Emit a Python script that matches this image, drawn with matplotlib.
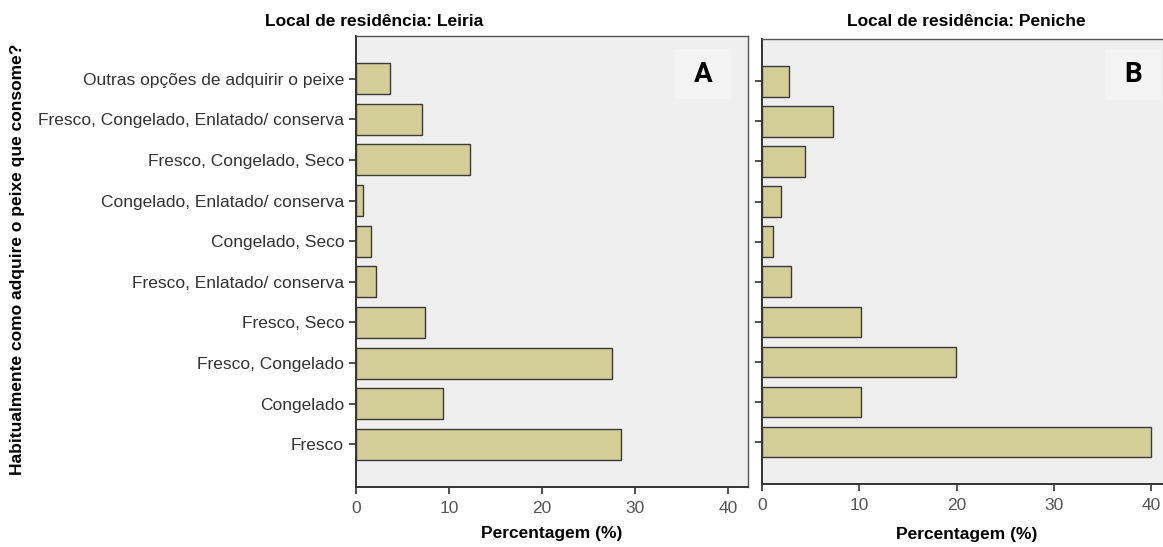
import matplotlib
matplotlib.use("Agg")
import matplotlib.pyplot as plt
import numpy as np

plt.rcParams['font.family'] = ['Liberation Sans', 'DejaVu Sans']

# categorias (de baixo para cima)
categorias = [
    "Fresco",
    "Congelado",
    "Fresco, Congelado",
    "Fresco, Seco",
    "Fresco, Enlatado/ conserva",
    "Congelado, Seco",
    "Congelado, Enlatado/ conserva",
    "Fresco, Congelado, Seco",
    "Fresco, Congelado, Enlatado/ conserva",
    "Outras opções de adquirir o peixe",
]
leiria = [28.5, 9.4, 27.5, 7.4, 2.1, 1.6, 0.8, 12.3, 7.1, 3.7]
peniche = [40.0, 10.2, 19.9, 10.2, 3.0, 1.1, 1.9, 4.4, 7.3, 2.7]
x_ticks = [0, 10, 20, 30, 40]

W, H = 1163, 547
fig = plt.figure(figsize=(W / 100, H / 100), dpi=100)

bar_col = "#d3ce97"
bg_col = "#efefef"
edge_col = "#3a3a3a"
fs = 12.5

def px(l, t, r, b):
    return [l / W, 1 - b / H, (r - l) / W, (b - t) / H]

ax1 = fig.add_axes(px(356, 36, 748, 487))
ax2 = fig.add_axes(px(762.3, 39.3, 1170.3, 484))

y = np.arange(len(categorias))
for ax, vals, xmax in [(ax1, leiria, 42.15), (ax2, peniche, 42.0)]:
    ax.set_facecolor(bg_col)
    ax.barh(y, vals, height=0.76, color=bar_col, edgecolor=edge_col, linewidth=1.0)
    ax.set_xlim(0, xmax)
    ax.set_ylim(-1.05, len(categorias) - 1 + 1.05)
    ax.set_xticks(x_ticks)
    ax.set_yticks(y)
    ax.tick_params(axis='both', direction='out', length=5, width=1.2, color="#333333")
    ax.tick_params(axis='x', labelsize=fs, labelcolor="#555555", pad=5)
    for s in ax.spines.values():
        s.set_color("#555555")
        s.set_linewidth(1.0)
    ax.spines['left'].set_color("#333333")
    ax.spines['bottom'].set_color("#333333")
    ax.spines['left'].set_linewidth(1.4)
    ax.spines['bottom'].set_linewidth(1.4)

ax1.set_yticklabels(categorias, fontsize=fs, color="#333333")
ax2.set_yticklabels([])

ax1.set_xlabel("Percentagem (%)", fontsize=fs, fontweight='bold', labelpad=7)
ax2.set_xlabel("Percentagem (%)", fontsize=fs, fontweight='bold', labelpad=10)

fig.text(18 / W, 1 - 259 / H, "Habitualmente como adquire o peixe que consome?",
         rotation=90, ha='center', va='center', fontsize=fs, fontweight='bold')

fig.text(374 / W, 1 - 22 / H, "Local de residência: Leiria", ha='center', va='center',
         fontsize=fs, fontweight='bold')
fig.text(966 / W, 1 - 22 / H, "Local de residência: Peniche", ha='center', va='center',
         fontsize=fs, fontweight='bold')

# etiquetas A / B
for cx, cy, lab in [(703, 74, "A"), (1133, 75, "B")]:
    fig.patches.append(plt.Rectangle(((cx - 28) / W, 1 - (cy + 25) / H), 56 / W, 50 / H,
                                     transform=fig.transFigure, facecolor="#f3f3f3",
                                     edgecolor='none', zorder=3))
    fig.text(cx / W, 1 - cy / H, lab, ha='center', va='center', fontsize=20,
             fontweight='bold', family=['Roboto', 'DejaVu Sans'], zorder=4)

fig.savefig("out.png", dpi=100)
